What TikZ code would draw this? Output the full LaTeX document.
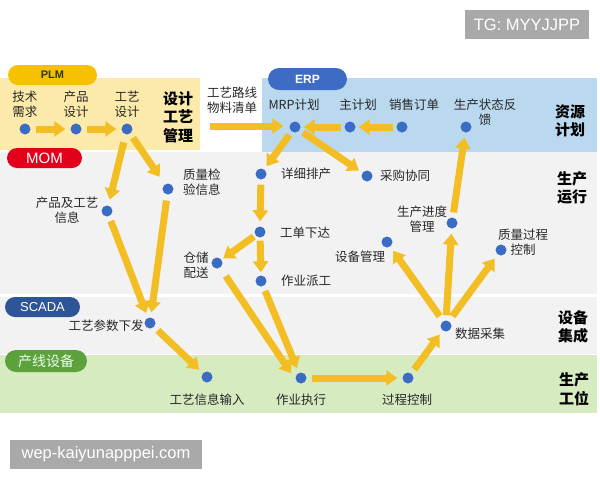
\documentclass[tikz,border=0pt]{standalone}
\usepackage{fontspec}
\setmainfont{Noto Sans CJK SC}
\newfontfamily\latinsans{Liberation Sans}
\usetikzlibrary{arrows.meta}
\definecolor{plmband}{RGB}{252,234,170}
\definecolor{erpband}{RGB}{186,216,238}
\definecolor{grayband}{RGB}{242,242,242}
\definecolor{greenband}{RGB}{214,235,192}
\definecolor{plmpill}{RGB}{246,193,0}
\definecolor{erppill}{RGB}{62,108,196}
\definecolor{mompill}{RGB}{226,0,26}
\definecolor{scadapill}{RGB}{46,85,151}
\definecolor{devpill}{RGB}{93,161,61}
\definecolor{dotblue}{RGB}{58,108,196}
\definecolor{arrowy}{RGB}{242,190,36}
\definecolor{txt}{RGB}{40,40,40}
\definecolor{wmgray}{RGB}{169,169,169}
\tikzset{
  dot/.style={circle, fill=dotblue, minimum size=11pt, inner sep=0pt},
  lbl/.style={font=\fontsize{12.5}{15}\selectfont, text=txt, inner sep=0pt, align=center},
  side/.style={font=\fontsize{15}{18.5}\selectfont\bfseries, text=black, inner sep=0pt, align=center},
  flow/.style={draw=arrowy, line width=7pt, -{Triangle[length=11pt,width=15pt]}, shorten <=5pt, shorten >=5pt},
  pill/.style={rounded corners=10pt, inner sep=0pt, text=white},
  wm/.style={fill=wmgray, text=white, inner sep=0pt, font=\latinsans\fontsize{16.5}{18}\selectfont}
}
\begin{document}
\begin{tikzpicture}[x=1pt,y=-1pt]
\useasboundingbox (0,0) rectangle (600,480);
% bands
\fill[plmband] (0,78) rectangle (200,150);
\fill[erpband] (262,78) rectangle (597,152);
\fill[grayband] (0,152) rectangle (597,294);
\fill[grayband] (0,297) rectangle (597,354);
\fill[greenband] (0,355) rectangle (597,413);
% pills
\node[pill, fill=plmpill, minimum width=89pt, minimum height=20pt, text=black!80, font=\latinsans\fontsize{11}{12}\selectfont\bfseries] (plm) at (52.5,75) {PLM};
\node[pill, fill=erppill, minimum width=79pt, minimum height=22pt, rounded corners=11pt, font=\latinsans\fontsize{12}{13}\selectfont\bfseries] (erp) at (307.5,79) {ERP};
\node[pill, fill=mompill, minimum width=75pt, minimum height=20pt, font=\latinsans\fontsize{15}{16}\selectfont] (mom) at (44.5,158) {MOM};
\node[pill, fill=scadapill, minimum width=75pt, minimum height=20pt, font=\latinsans\fontsize{13}{14}\selectfont] (scada) at (42.5,307) {SCADA};
\node[pill, fill=devpill, minimum width=82pt, minimum height=22pt, rounded corners=11pt, text=white!92!green, font=\fontsize{14}{15}\selectfont] (dev) at (46,361) {产线设备};
% dots
\node[dot] (jsxq) at (25,129) {};
\node[dot] (cpsj) at (76,129) {};
\node[dot] (gysj) at (127,129) {};
\node[dot] (mrp) at (295,127) {};
\node[dot] (zjh) at (350,127) {};
\node[dot] (xsdd) at (402,127) {};
\node[dot] (sczt) at (466,127) {};
\node[dot] (xxpc) at (261,174) {};
\node[dot] (cgxt) at (367,176) {};
\node[dot] (zljy) at (168,189) {};
\node[dot] (cpgy) at (107,211) {};
\node[dot] (gdxd) at (260,232) {};
\node[dot] (ccps) at (217,263) {};
\node[dot] (zypg) at (261,281) {};
\node[dot] (scjd) at (452,223) {};
\node[dot] (sbgl) at (387,242) {};
\node[dot] (zlgc) at (501,250) {};
\node[dot] (sjcj) at (446,326) {};
\node[dot] (gycs) at (150,323) {};
\node[dot] (gyxx) at (207,377) {};
\node[dot] (zyzx) at (301,378) {};
\node[dot] (gckz) at (408,378) {};
\coordinate (gylx) at (210,126);
% arrows
\draw[flow] (jsxq) -- (cpsj);
\draw[flow] (cpsj) -- (gysj);
\draw[flow, shorten <=0pt, shorten >=6pt] (gylx) -- (mrp.west |- gylx);
\draw[flow, shorten >=9pt] (gysj) -- (zljy);
\draw[flow, shorten <=8pt, shorten >=6pt] (gysj) -- (cpgy);
\draw[flow] (cpgy) -- (gycs);
\draw[flow, shorten <=6pt, shorten >=5pt] (zljy) -- (gycs);
\draw[flow] (gycs) -- (gyxx);
\draw[flow, shorten <=4pt, shorten >=4pt] (mrp) -- (xxpc);
\draw[flow, shorten <=4pt, shorten >=4pt] (mrp) -- (cgxt);
\draw[flow, shorten <=3pt, shorten >=3pt] (zjh) -- (mrp);
\draw[flow, shorten <=3pt, shorten >=3pt] (xsdd) -- (zjh);
\draw[flow] (xxpc) -- (gdxd);
\draw[flow, shorten <=2pt, shorten >=2pt] (gdxd) -- (ccps);
\draw[flow, shorten <=3pt, shorten >=3pt] (gdxd) -- (zypg);
\draw[flow, shorten <=10pt, shorten >=8pt] (ccps) -- (zyzx.200);
\draw[flow] (zypg) -- (zyzx);
\draw[flow] (zyzx) -- (gckz);
\draw[flow] (gckz) -- (sjcj);
\draw[flow, shorten <=6pt] (sjcj.120) -- (sbgl);
\draw[flow] (sjcj.90) -- (scjd);
\draw[flow, shorten <=6pt] (sjcj.60) -- (zlgc);
\draw[flow] (scjd) -- (sczt);
% labels
\node[lbl] (l-jsxq) at (25,104.5) {技术\\需求};
\node[lbl] (l-cpsj) at (76,104.5) {产品\\设计};
\node[lbl] (l-gysj) at (127,104.5) {工艺\\设计};
\node[side] (s-sjgy) at (178,117) {设计\\工艺\\管理};
\node[lbl] (l-gylx) at (232,100) {工艺路线\\物料清单};
\node[lbl] (l-mrp) at (294,105) {MRP计划};
\node[lbl] (l-zjh) at (358,105) {主计划};
\node[lbl] (l-xsdd) at (414,105) {销售订单};
\node[lbl] (l-sczt) at (485,112) {生产状态反\\馈};
\node[side] (s-zyjh) at (570,121) {资源\\计划};
\node[lbl, anchor=west] (l-xxpc) at (281,174) {详细排产};
\node[lbl, anchor=west] (l-cgxt) at (380,176) {采购协同};
\node[lbl, anchor=west] (l-zljy) at (183,182) {质量检\\验信息};
\node[side] (s-scyx) at (572,188) {生产\\运行};
\node[lbl] (l-cpgy) at (67,210) {产品及工艺\\信息};
\node[lbl, anchor=west] (l-gdxd) at (280,233) {工单下达};
\node[lbl] (l-ccps) at (196,265) {仓储\\配送};
\node[lbl, anchor=west] (l-zypg) at (281,281) {作业派工};
\node[lbl] (l-scjd) at (422,219.5) {生产进度\\管理};
\node[lbl] (l-sbgl) at (360,257) {设备管理};
\node[lbl] (l-zlgc) at (523,242.5) {质量过程\\控制};
\node[lbl, anchor=west] (l-sjcj) at (455,334) {数据采集};
\node[side] (s-sbjc) at (573,327) {设备\\集成};
\node[lbl] (l-gycs) at (106,326) {工艺参数下发};
\node[lbl] (l-gyxx) at (207,400) {工艺信息输入};
\node[lbl] (l-zyzx) at (301,400) {作业执行};
\node[lbl] (l-gckz) at (407,400) {过程控制};
\node[side] (s-scgw) at (574,389) {生产\\工位};
% watermarks
\node[wm, minimum width=124pt, minimum height=29pt] (wm1) at (527,24.5) {TG: MYYJJPP};
\node[wm, minimum width=192pt, minimum height=29pt] (wm2) at (106,454.5) {wep-kaiyunapppei.com};
\end{tikzpicture}
\end{document}
